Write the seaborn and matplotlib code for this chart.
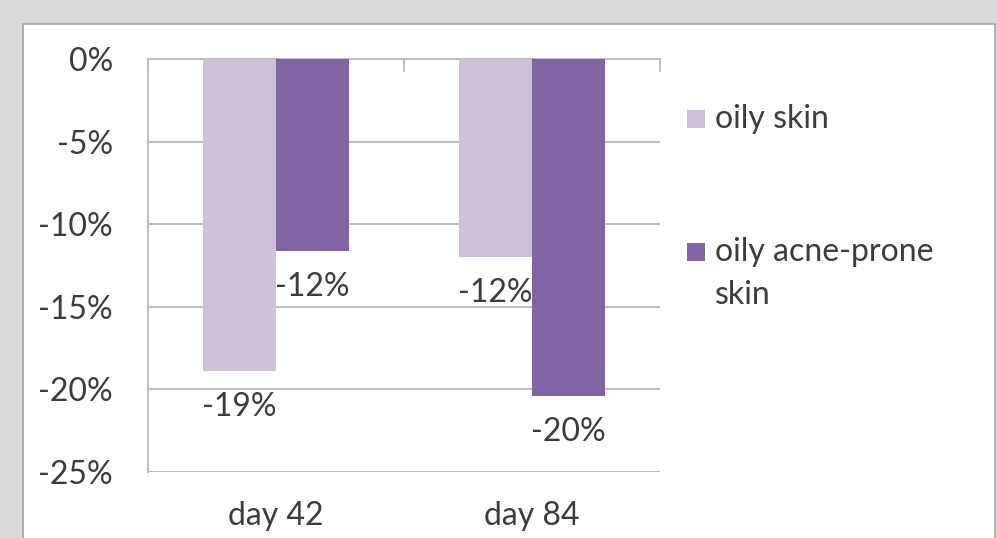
import textwrap
import matplotlib
matplotlib.use("Agg")
import matplotlib.pyplot as plt
from matplotlib.patches import Rectangle
import pandas as pd
import seaborn as sns

# Change in sebum level versus baseline (%)
days = ["day 42", "day 84"]
series = ["oily skin", "oily acne-prone skin"]
oily_skin = [-18.9, -12.0]
oily_acne_prone = [-11.6, -20.4]
y_ticks = [0, -5, -10, -15, -20, -25]

colors = ["#ccc0da", "#8064a2"]
text_color = "#3c3c3c"
grid_color = "#bfbfbf"
FS = 23
font_kw = dict(fontsize=FS, color=text_color)

df = pd.DataFrame({
    "day": days * 2,
    "group": [series[0]] * len(days) + [series[1]] * len(days),
    "change": oily_skin + oily_acne_prone,
})

sns.set_style("white")
plt.rcParams["font.family"] = ["Lato", "DejaVu Sans"]

W, H = 997, 538
fig = plt.figure(figsize=(W / 100, H / 100), dpi=100)
fig.patch.set_facecolor("#d9d9d9")

# white chart panel
fig.patches.append(Rectangle((23 / W, -0.01), (995 - 23) / W, 1 - 24 / H + 0.01,
                             transform=fig.transFigure, facecolor="white",
                             edgecolor="#a6a6a6", lw=1.2, zorder=-1))

ax = fig.add_axes([148 / W, 1 - 472 / H, (660 - 148) / W, (472 - 59) / H])
ax.patch.set_visible(False)

sns.barplot(data=df, x="day", y="change", hue="group", hue_order=series,
            palette=colors, width=0.567, saturation=1, errorbar=None,
            legend=False, ax=ax, zorder=3, linewidth=0, edgecolor="none")

ax.set_xlim(-0.5, 1.5)
ax.set_ylim(-25, 0)
ax.set_yticks(y_ticks)
ax.set_yticklabels([f"{v}%" for v in y_ticks])
ax.set_xlabel("")
ax.set_ylabel("")

ax.grid(axis="y", color=grid_color, lw=1.5, zorder=0)
ax.grid(axis="x", visible=False)
for side in ["right", "bottom"]:
    ax.spines[side].set_visible(False)
for side in ["left", "top"]:
    ax.spines[side].set_color(grid_color)
    ax.spines[side].set_linewidth(1.5)

ax.tick_params(axis="y", length=7.2, width=1.5, color=grid_color, pad=18,
               labelsize=FS, labelcolor=text_color)
ax.tick_params(axis="x", which="major", length=0, pad=21,
               labelsize=FS, labelcolor=text_color)
ax.set_xticks([-0.5, 0.5, 1.5], minor=True)
ax.tick_params(axis="x", which="minor", bottom=False, top=True, direction="in",
               length=9, width=1.5, color=grid_color)

# value labels below the end of each bar
label_drop_px = 36
for cont in ax.containers:
    for bar in cont:
        val = bar.get_height()
        ax.annotate(f"{round(val):d}%",
                    (bar.get_x() + bar.get_width() / 2, val),
                    xytext=(0, -label_drop_px * 0.72),
                    textcoords="offset points", ha="center", va="center",
                    zorder=5, **font_kw)

# legend
leg_y = [119, 252]
for gi, name in enumerate(series):
    y0 = leg_y[gi]
    fig.patches.append(Rectangle((687 / W, 1 - (y0 + 9) / H), 18 / W, 18 / H,
                                 transform=fig.transFigure,
                                 facecolor=colors[gi], edgecolor="none"))
    for li, line in enumerate(textwrap.wrap(name, 15)):
        fig.text(715 / W, 1 - (y0 + li * 43) / H, line, ha="left",
                 va="center", **font_kw)

fig.savefig("out.png", dpi=100, facecolor=fig.get_facecolor())
